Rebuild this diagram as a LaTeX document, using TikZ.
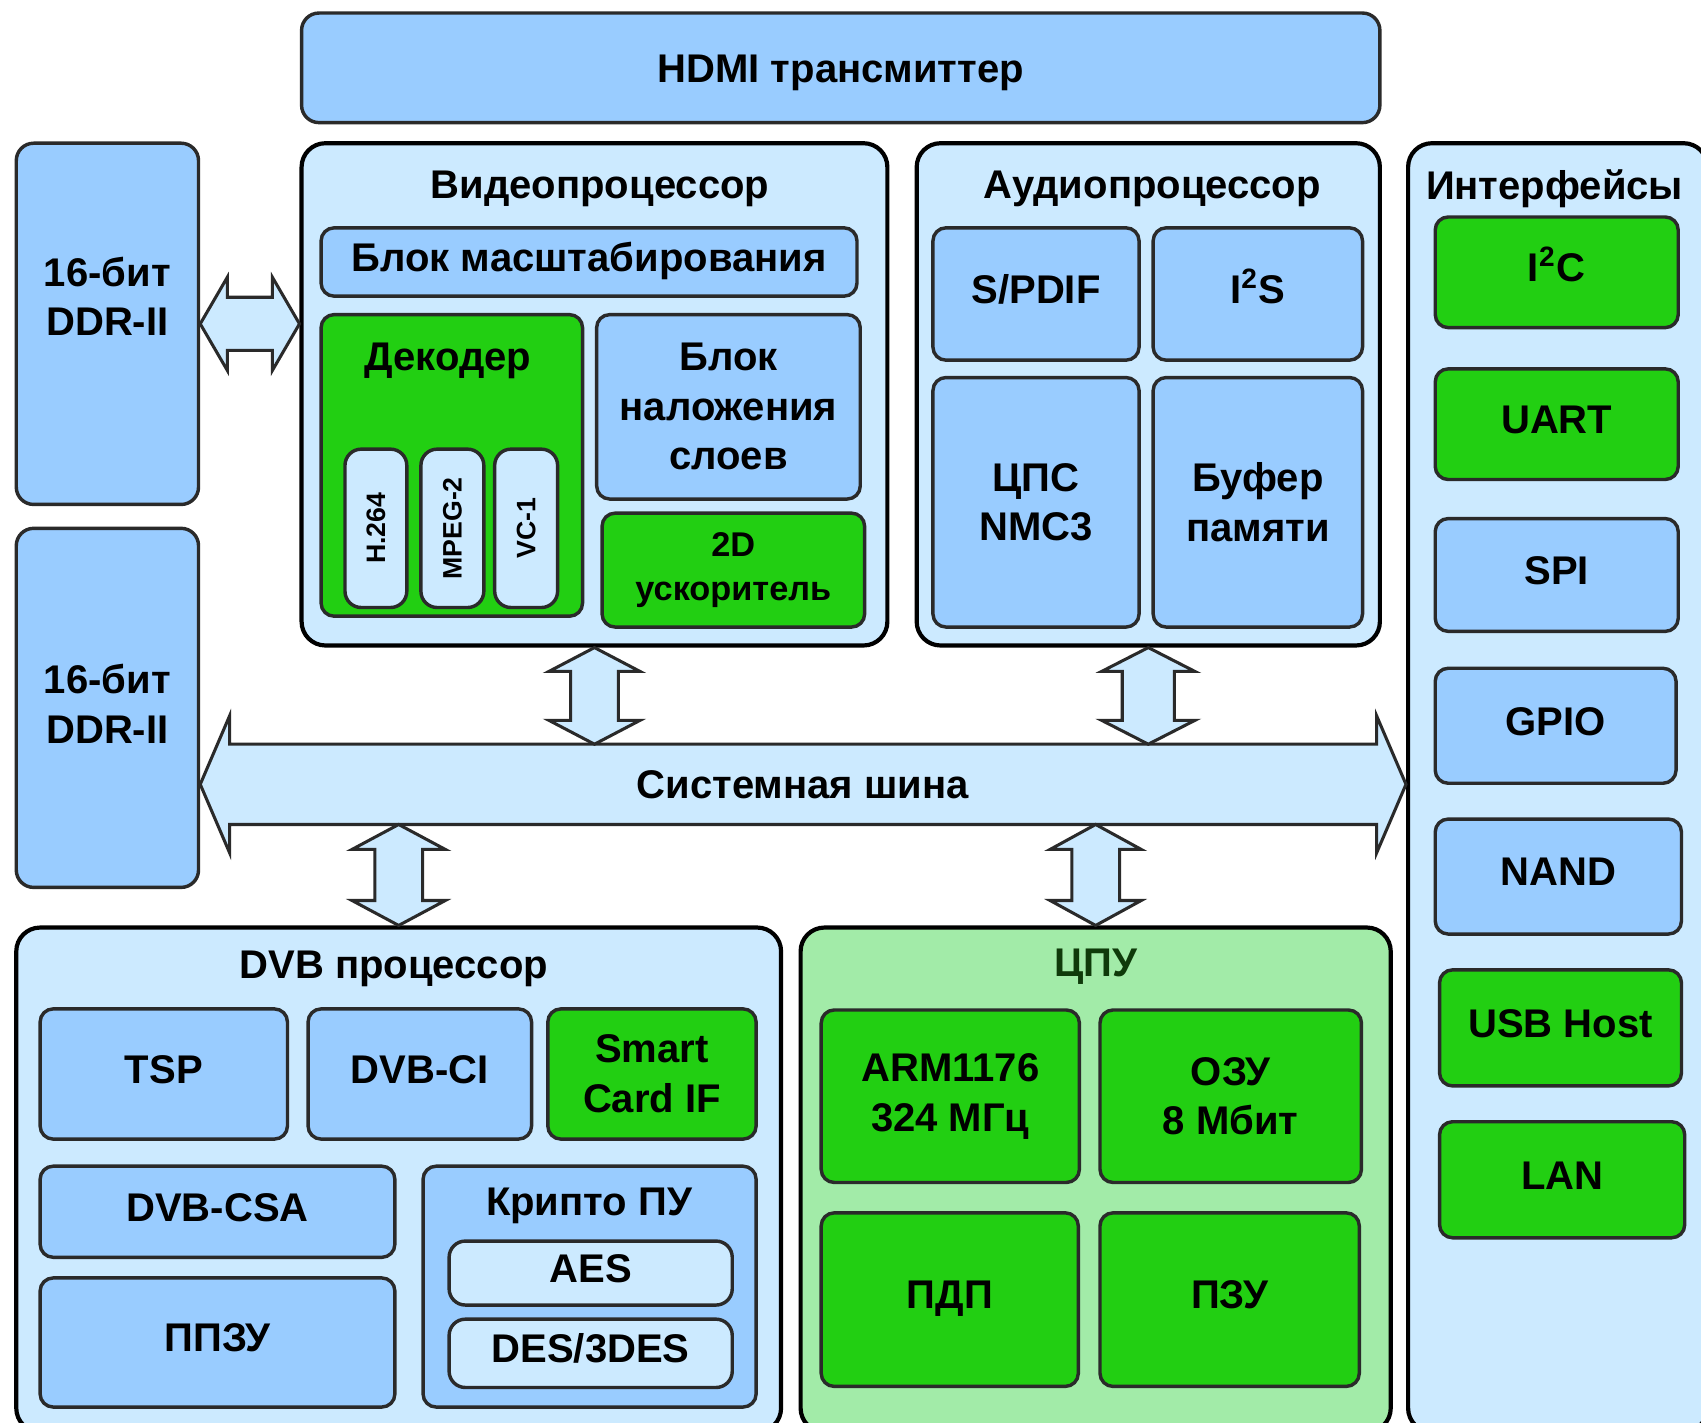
\documentclass[tikz,border=0pt]{standalone}
\usepackage{fontspec}
\setmainfont{Liberation Sans}
\usetikzlibrary{calc}
\definecolor{bluebox}{HTML}{99CCFF}
\definecolor{lightbg}{HTML}{CCEAFF}
\definecolor{greenbox}{HTML}{22CF12}
\definecolor{cpubg}{HTML}{A2EBA8}
\definecolor{edge}{HTML}{2A2A2A}
\definecolor{darkgreen}{HTML}{0F3A0A}
\newcommand\mainfnt{\fontsize{10.5pt}{13pt}\selectfont\bfseries}
\newcommand\smallfnt{\fontsize{9pt}{11.4pt}\selectfont\bfseries}
\newcommand\tinyfnt{\fontsize{7pt}{8pt}\selectfont\bfseries}
\newcommand\mkbox[7]{\node[#1, minimum width={(#5-#3)*0.1mm}, minimum height={(#6-#4)*0.1mm}] (#2) at ({(#3+#5)/2},{(#4+#6)/2}) {#7};}
% horizontal double arrow: #1 left tip, #2 right tip, #3 shaft half, #4 head half, #5 head length
\newcommand\hdarrow[5]{\draw[arrowsty] (#1) -- ($(#1)+(#5,-#4)$) -- ($(#1)+(#5,-#3)$) -- ($(#2)+(-#5,-#3)$) -- ($(#2)+(-#5,-#4)$) -- (#2) -- ($(#2)+(-#5,#4)$) -- ($(#2)+(-#5,#3)$) -- ($(#1)+(#5,#3)$) -- ($(#1)+(#5,#4)$) -- cycle;}
% vertical double arrow: #1 top tip, #2 bottom tip
\newcommand\vdarrow[5]{\draw[arrowsty] (#1) -- ($(#1)+(#4,#5)$) -- ($(#1)+(#3,#5)$) -- ($(#2)+(#3,-#5)$) -- ($(#2)+(#4,-#5)$) -- (#2) -- ($(#2)+(-#4,-#5)$) -- ($(#2)+(-#3,-#5)$) -- ($(#1)+(-#3,#5)$) -- ($(#1)+(-#4,#5)$) -- cycle;}
\begin{document}
\begin{tikzpicture}[x=0.1mm, y=-0.1mm,
  container/.style={draw=black, line width=1.1pt, fill=lightbg, rounded corners=2.2mm, inner sep=0pt},
  blk/.style={draw=edge, line width=0.9pt, fill=bluebox, rounded corners=1.2mm, align=center, inner sep=0pt, font=\mainfnt},
  grn/.style={blk, fill=greenbox},
  pill/.style={blk, fill=lightbg, rounded corners=1.5mm},
  sl/.style={text height=7.5pt, text depth=2.6pt},
  lbl/.style={font=\mainfnt, inner sep=0pt, align=center},
  arrowsty/.style={draw=edge, line width=0.8pt, fill=lightbg, line join=miter}]
\useasboundingbox (0,0) rectangle (1568,1311);
\clip (0,0) rectangle (1568,1311);
\fill[white] (0,0) rectangle (1568,1311);

% containers
\mkbox{container}{video}{278}{132}{818}{595}{}
\mkbox{container}{audio}{845}{132}{1272}{595}{}
\mkbox{container}{intf}{1298}{132}{1574}{1320}{}
\mkbox{container}{dvb}{15}{855}{720}{1320}{}
\mkbox{container, fill=cpubg}{cpu}{738}{855}{1282}{1320}{}
\mkbox{blk, rounded corners=1.6mm, text height=7.5pt, text depth=0pt}{hdmi}{278}{12}{1272}{113}{HDMI трансмиттер}
\mkbox{blk, rounded corners=1.6mm}{ddr1}{15}{132}{183}{465}{}
\node[lbl] (ddr1t) at (99,273) {16-бит\\DDR-II};
\mkbox{blk, rounded corners=1.6mm}{ddr2}{15}{487}{183}{818}{}
\node[lbl] (ddr2t) at (99,649) {16-бит\\DDR-II};

% titles
\node[lbl] (videot) at (553,174) {Видеопроцессор};
\node[lbl] (audiot) at (1062,174) {Аудиопроцессор};
\node[lbl] (intft) at (1433,174) {Интерфейсы};
\node[lbl] (dvbt) at (363,893) {DVB процессор};
\node[lbl, text=darkgreen] (cput) at (1010,891) {ЦПУ};

% video processor
\mkbox{blk, sl}{scale}{296}{210}{790}{273}{Блок масштабирования}
\mkbox{grn}{dec}{296}{290}{537}{568}{}
\node[lbl] (dect) at (413,333) {Декодер};
\mkbox{pill}{h264}{318}{414}{375}{560}{\rotatebox{90}{\tinyfnt H.264}}
\mkbox{pill}{mpeg}{388}{414}{446}{560}{\rotatebox{90}{\tinyfnt MPEG-2}}
\mkbox{pill}{vc1}{456}{414}{514}{560}{\rotatebox{90}{\tinyfnt VC-1}}
\mkbox{blk}{overlay}{550}{290}{793}{460}{Блок\\наложения\\слоев}
\mkbox{grn, font=\smallfnt}{accel}{555}{473}{797}{578}{2D\\ускоритель}

% audio processor
\mkbox{blk, sl}{spdif}{860}{210}{1050}{332}{S/PDIF}
\mkbox{blk, sl}{i2s}{1063}{210}{1256}{332}{I\textsuperscript{2}S}
\mkbox{blk}{dsp}{860}{348}{1050}{578}{ЦПС\\NMC3}
\mkbox{blk}{buf}{1063}{348}{1256}{578}{Буфер\\памяти}

% interfaces
\mkbox{grn, sl}{i2c}{1323}{200}{1547}{302}{I\textsuperscript{2}C}
\mkbox{grn, sl}{uart}{1323}{340}{1547}{442}{UART}
\mkbox{blk, sl}{spi}{1323}{478}{1547}{582}{SPI}
\mkbox{blk, sl}{gpio}{1323}{616}{1545}{722}{GPIO}
\mkbox{blk, sl}{nand}{1323}{755}{1550}{861}{NAND}
\mkbox{grn, sl}{usb}{1327}{894}{1550}{1001}{USB Host}
\mkbox{grn, sl}{lan}{1327}{1034}{1553}{1141}{LAN}

% DVB processor
\mkbox{blk, sl}{tsp}{37}{930}{265}{1050}{TSP}
\mkbox{blk, sl}{dvbci}{284}{930}{490}{1050}{DVB-CI}
\mkbox{grn}{smart}{505}{930}{697}{1050}{Smart\\Card IF}
\mkbox{blk, sl}{csa}{37}{1075}{364}{1159}{DVB-CSA}
\mkbox{blk, sl}{ppzu}{37}{1178}{364}{1297}{ППЗУ}
\mkbox{blk}{crypto}{390}{1075}{697}{1297}{}
\node[lbl] (cryptot) at (543,1112) {Крипто ПУ};
\mkbox{pill, sl}{aes}{414}{1144}{675}{1203}{AES}
\mkbox{pill, sl}{des}{414}{1216}{675}{1279}{DES/3DES}

% CPU
\mkbox{grn}{arm}{757}{931}{995}{1090}{ARM1176\\324 МГц}
\mkbox{grn}{ozu}{1014}{931}{1255}{1090}{ОЗУ\\8 Мбит}
\mkbox{grn, sl}{pdp}{757}{1118}{994}{1278}{ПДП}
\mkbox{grn, sl}{pzu}{1014}{1118}{1253}{1278}{ПЗУ}

% DDR <-> video
\coordinate (ddrR) at (ddr1.east -| video.west);
\hdarrow{ddr1.east}{ddrR}{24.5}{43}{25}

% system bus
\coordinate (busc) at (740,723);
\coordinate (bustop) at (740,686);
\coordinate (busbot) at (740,760);
\coordinate (busL) at (ddr2.east |- busc);
\coordinate (busR) at (intf.west |- busc);
\hdarrow{busL}{busR}{37}{63}{27}
\node[lbl] (buslbl) at (busc) {Системная шина};

% vertical arrows
\coordinate (vbus) at (video.south |- bustop);
\vdarrow{video.south}{vbus}{22}{42}{22}
\coordinate (abus) at (audio.south |- bustop);
\vdarrow{audio.south}{abus}{24}{43}{22}
\coordinate (dbus) at (dvb.north |- busbot);
\vdarrow{dbus}{dvb.north}{22}{43}{23}
\coordinate (cbus) at (cpu.north |- busbot);
\vdarrow{cbus}{cpu.north}{22}{42}{23}
\end{tikzpicture}
\end{document}
